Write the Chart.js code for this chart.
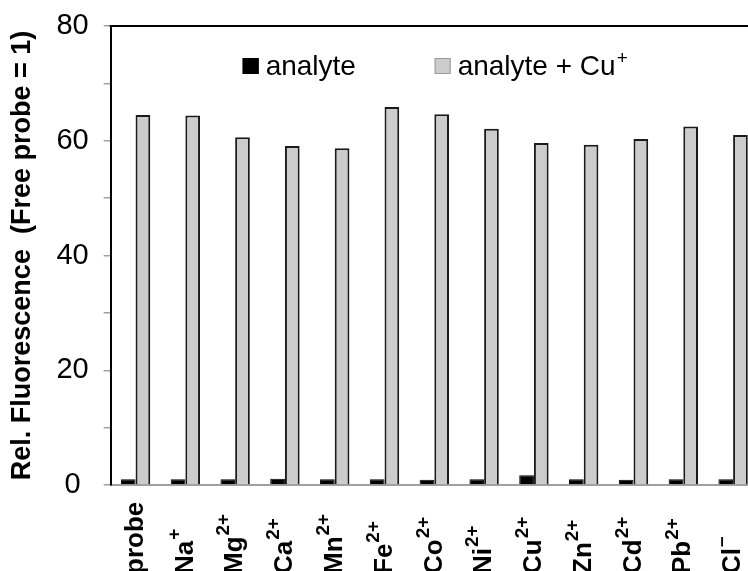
<!DOCTYPE html>
<html>
<head>
<meta charset="utf-8">
<script src="https://cdn.jsdelivr.net/npm/chart.js@4/dist/chart.umd.min.js"></script>
<style>
  html, body { margin: 0; padding: 0; background: #fff; overflow: hidden; }
  #wrap { width: 748px; height: 571px; overflow: hidden; }
  canvas { display: block; }
</style>
</head>
<body>
<div id="wrap"><canvas id="c" width="780" height="571"></canvas></div>
<script>
// ---- data ----
const labelBase = ['probe', 'Na', 'Mg', 'Ca', 'Mn', 'Fe', 'Co', 'Ni', 'Cu', 'Zn', 'Cd', 'Pb', 'Cl'];
const labelSup  = ['', '+', '2+', '2+', '2+', '2+', '2+', '2+', '2+', '2+', '2+', '2+', '\u2013'];
const categories = labelBase.map((b, i) => b + labelSup[i]);
const analyte      = [1.0, 1.0, 1.0, 1.1, 1.0, 1.0, 0.9, 1.0, 1.7, 1.0, 0.9, 1.0, 1.0];
const analyteCu    = [64.5, 64.4, 60.6, 59.1, 58.7, 65.9, 64.6, 62.1, 59.6, 59.3, 60.3, 62.5, 61.0];
const seriesNames  = ['analyte', 'analyte + Cu'];
const seriesSup    = ['', '+'];
const yTicks       = [0, 20, 40, 60, 80];
const yTitle       = 'Rel. Fluorescence  (Free probe = 1)';

const FONT = '"Liberation Sans", Arial, Helvetica, sans-serif';

const topBorder = {
  id: 'topBorder',
  afterDraw(chart) {
    const {ctx, chartArea: a} = chart;
    ctx.save();
    ctx.strokeStyle = '#000';
    ctx.lineWidth = 2;
    ctx.beginPath();
    ctx.moveTo(a.left - 1, a.top);
    ctx.lineTo(a.right + 20, a.top);
    ctx.stroke();
    ctx.restore();
  }
};

const xLabels = {
  id: 'xLabels',
  afterDraw(chart) {
    const {ctx} = chart;
    const xs = chart.scales.x;
    ctx.save();
    ctx.fillStyle = '#000';
    labelBase.forEach((b, i) => {
      const x = xs.getPixelForValue(i);
      ctx.save();
      ctx.translate(x, 574);
      ctx.rotate(-Math.PI / 2);
      ctx.textAlign = 'left';
      ctx.textBaseline = 'middle';
      ctx.font = 'bold 26px ' + FONT;
      ctx.fillText(b, 0, 0);
      const w = ctx.measureText(b).width;
      if (labelSup[i]) {
        ctx.font = 'bold 19px ' + FONT;
        ctx.fillText(labelSup[i], w + 1, -11);
      }
      ctx.restore();
    });
    ctx.restore();
  }
};

const legendPlugin = {
  id: 'customLegend',
  afterDraw(chart) {
    const {ctx, chartArea: a} = chart;
    const items = chart.data.datasets;
    const starts = [a.left + 132, a.left + 324];
    ctx.save();
    items.forEach((ds, i) => {
      const bx = starts[i], by = 58;
      ctx.fillStyle = ds.backgroundColor;
      ctx.fillRect(bx, by, 16, 16);
      ctx.strokeStyle = i === 0 ? '#000' : '#999';
      ctx.lineWidth = 1;
      ctx.strokeRect(bx + 0.5, by + 0.5, 15, 15);
      ctx.fillStyle = '#000';
      ctx.textAlign = 'left';
      ctx.textBaseline = 'alphabetic';
      ctx.font = '28px ' + FONT;
      const t = seriesNames[i];
      ctx.fillText(t, bx + 23, by + 17);
      if (seriesSup[i]) {
        const w = ctx.measureText(t).width;
        ctx.font = '19px ' + FONT;
        ctx.fillText(seriesSup[i], bx + 23 + w + 1, by + 6);
      }
    });
    ctx.restore();
  }
};

new Chart(document.getElementById('c'), {
  type: 'bar',
  data: {
    labels: categories,
    datasets: [
      {
        label: seriesNames[0],
        data: analyte,
        backgroundColor: '#000000',
        borderColor: '#000000',
        borderWidth: 1
      },
      {
        label: seriesNames[1] + seriesSup[1],
        data: analyteCu,
        backgroundColor: '#cccccc',
        borderColor: '#1a1a1a',
        borderWidth: 2
      }
    ]
  },
  options: {
    responsive: false,
    animation: false,
    devicePixelRatio: 1,
    layout: { padding: { left: 0, top: 26, right: 22, bottom: 78 } },
    datasets: { bar: { categoryPercentage: 0.59, barPercentage: 1.0 } },
    plugins: {
      legend: { display: false },
      tooltip: { enabled: false },
      title: { display: false }
    },
    scales: {
      x: {
        type: 'category',
        grid: { display: false },
        ticks: { display: false },
        border: { display: true, color: '#a0a0a0', width: 2 }
      },
      y: {
        min: 0,
        max: 80,
        ticks: {
          stepSize: 10,
          color: '#000',
          font: { family: FONT, size: 29, lineHeight: 0.6 },
          padding: 15,
          crossAlign: 'center',
          callback: (v) => yTicks.includes(v) ? String(v) : ''
        },
        grid: {
          drawOnChartArea: false,
          drawTicks: true,
          tickLength: 7,
          color: '#a0a0a0',
          lineWidth: 1.5
        },
        border: { display: true, color: '#000', width: 2 },
        title: {
          display: true,
          text: yTitle,
          color: '#000',
          font: { family: FONT, size: 27, weight: 'bold' },
          padding: { top: 6, bottom: 3 }
        }
      }
    }
  },
  plugins: [topBorder, xLabels, legendPlugin]
});
</script>
</body>
</html>
